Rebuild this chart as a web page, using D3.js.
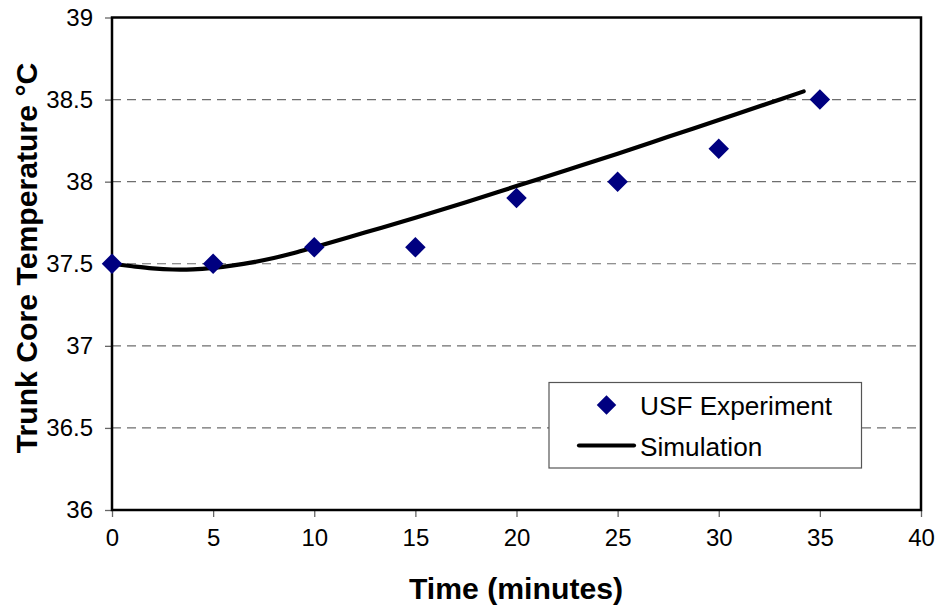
<!DOCTYPE html>
<html>
<head>
<meta charset="utf-8">
<script src="https://cdn.jsdelivr.net/npm/d3@7/dist/d3.min.js"></script>
<style>
  html, body { margin: 0; padding: 0; background: #fff; }
  svg { display: block; font-family: "Liberation Sans", Arial, sans-serif; }
</style>
</head>
<body>
<svg id="chart" width="940" height="608"></svg>
<script>
// Measured trunk core temperature (USF experiment), minutes vs °C
const expTime = [0, 5, 10, 15, 20, 25, 30, 35];
const expTemp = [37.5, 37.5, 37.6, 37.6, 37.9, 38.0, 38.2, 38.5];

// Simulated trunk core temperature
const simTime = [0, 1, 2, 3, 4, 5, 6, 7, 8, 9, 10, 12.5, 15, 17.5, 20, 22.5, 25, 27.5, 30, 32.5, 34.2];
const simTemp = [37.5, 37.485, 37.472, 37.465, 37.466, 37.475, 37.49, 37.51, 37.535, 37.565, 37.6,
                 37.69, 37.78, 37.875, 37.973, 38.071, 38.17, 38.273, 38.376, 38.479, 38.55];

const xTicks = [0, 5, 10, 15, 20, 25, 30, 35, 40];
const yTicks = [36, 36.5, 37, 37.5, 38, 38.5, 39];
const gridTicks = [36.5, 37, 37.5, 38, 38.5];

const seriesNames = ["USF Experiment", "Simulation"];
const xTitle = "Time (minutes)";
const yTitle = "Trunk Core Temperature °C";

const svg = d3.select("#chart");
const plot = { left: 112, right: 921, top: 17.5, bottom: 510 };

const x = d3.scaleLinear().domain([0, 40]).range([plot.left, plot.right]);
const y = d3.scaleLinear().domain([36, 39]).range([plot.bottom, plot.top]);

// dashed horizontal gridlines
svg.append("g")
  .selectAll("line")
  .data(gridTicks)
  .join("line")
  .attr("x1", plot.left).attr("x2", plot.right)
  .attr("y1", d => y(d)).attr("y2", d => y(d))
  .attr("stroke", "#6e6e6e")
  .attr("stroke-width", 1.2)
  .attr("stroke-dasharray", "9,6");

// axes
const xAxis = d3.axisBottom(x).tickValues(xTicks).tickSize(7).tickPadding(12).tickFormat(d3.format("d"));
const yAxis = d3.axisLeft(y).tickValues(yTicks).tickSize(7).tickPadding(12).tickFormat(d => d3.format("")(d));

const gx = svg.append("g").attr("transform", `translate(0,${plot.bottom})`).call(xAxis);
const gy = svg.append("g").attr("transform", `translate(${plot.left},0)`).call(yAxis);

[gx, gy].forEach(g => {
  g.select(".domain").remove();
  g.selectAll(".tick line").attr("stroke", "#666").attr("stroke-width", 1.3);
  g.selectAll(".tick text").attr("fill", "#000").style("font-size", "24px");
});
gx.selectAll(".tick text").attr("dy", "0.71em");

// plot frame
svg.append("rect")
  .attr("x", plot.left).attr("y", plot.top)
  .attr("width", plot.right - plot.left).attr("height", plot.bottom - plot.top)
  .attr("fill", "none").attr("stroke", "#000").attr("stroke-width", 2.5);

// simulation curve
const line = d3.line().x(d => x(d[0])).y(d => y(d[1])).curve(d3.curveCatmullRom);
svg.append("path")
  .datum(d3.zip(simTime, simTemp))
  .attr("d", line)
  .attr("fill", "none")
  .attr("stroke", "#000")
  .attr("stroke-width", 4.2)
  .attr("stroke-linecap", "round");

// experiment markers
const diamond = d3.symbol().type(d3.symbolSquare).size(210);
svg.append("g")
  .selectAll("path")
  .data(d3.zip(expTime, expTemp))
  .join("path")
  .attr("d", diamond)
  .attr("transform", d => `translate(${x(d[0])},${y(d[1])}) rotate(45)`)
  .attr("fill", "#000080");

// legend
const lg = svg.append("g");
lg.append("rect")
  .attr("x", 549).attr("y", 382.5).attr("width", 312.5).attr("height", 85.5)
  .attr("fill", "#fff").attr("stroke", "#555").attr("stroke-width", 1.2);
lg.append("path")
  .attr("d", d3.symbol().type(d3.symbolSquare).size(190))
  .attr("transform", "translate(606.5,405) rotate(45)")
  .attr("fill", "#000080");
lg.append("line")
  .attr("x1", 579).attr("x2", 634).attr("y1", 445.5).attr("y2", 445.5)
  .attr("stroke", "#000").attr("stroke-width", 4.2).attr("stroke-linecap", "round");
lg.selectAll("text")
  .data(seriesNames)
  .join("text")
  .attr("x", 640)
  .attr("y", (d, i) => i === 0 ? 414.5 : 456)
  .style("font-size", "26.2px")
  .attr("fill", "#000")
  .text(d => d);

// axis titles
svg.append("text")
  .attr("x", 516).attr("y", 599)
  .attr("text-anchor", "middle")
  .style("font-size", "30.2px").style("font-weight", "bold")
  .text(xTitle);

svg.append("text")
  .attr("transform", "translate(37,258) rotate(-90)")
  .attr("text-anchor", "middle")
  .style("font-size", "30.2px").style("font-weight", "bold")
  .text(yTitle);
</script>
</body>
</html>
